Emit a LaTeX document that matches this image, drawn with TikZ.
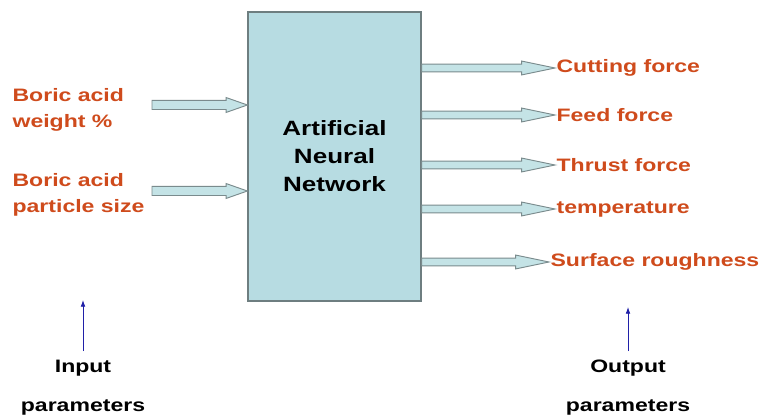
\documentclass[tikz,border=0pt]{standalone}
\usepackage{fontspec}
\setmainfont{Liberation Sans}
\newfontfamily\lblfont[FakeStretch=1.28]{Liberation Sans}
\newfontfamily\boxfont[FakeStretch=1.26]{Liberation Sans}
\usetikzlibrary{calc,arrows.meta}
\definecolor{lblred}{HTML}{CF4B1C}
\definecolor{boxfill}{HTML}{B7DCE2}
\definecolor{boxline}{HTML}{6E7E80}
\definecolor{arrfill}{HTML}{C4E3E6}
\definecolor{arrline}{HTML}{7A8B8D}
\definecolor{navy}{HTML}{2020A8}
\tikzset{
  inlabel/.style={font=\lblfont\bfseries\fontsize{13.5pt}{19.5pt}\selectfont, text=lblred, align=left, inner sep=1pt},
  outlabel/.style={font=\lblfont\bfseries\fontsize{13.5pt}{19.5pt}\selectfont, text=lblred, anchor=west, inner sep=1pt},
  paramlabel/.style={font=\lblfont\bfseries\fontsize{13.5pt}{19.5pt}\selectfont, text=black, inner sep=1pt},
  annbox/.style={draw=boxline, fill=boxfill, line width=0.9pt, minimum width=129.75pt, minimum height=216.75pt,
    font=\boxfont\bfseries\fontsize{15.5pt}{21pt}\selectfont, align=center},
  inarrow/.style={draw=arrline, fill=arrfill, line width=0.7pt,
    to path={($(\tikztostart)+(0,3.4pt)$) -- ($(\tikztotarget)+(-16pt,3.4pt)$) -- ($(\tikztotarget)+(-16pt,5.6pt)$)
      -- (\tikztotarget) -- ($(\tikztotarget)+(-16pt,-5.6pt)$) -- ($(\tikztotarget)+(-16pt,-3.4pt)$)
      -- ($(\tikztostart)+(0,-3.4pt)$) -- cycle}},
  outarrow/.style={draw=arrline, fill=arrfill, line width=0.7pt,
    to path={($(\tikztostart)+(0,2.9pt)$) -- ($(\tikztotarget)+(-25pt,2.9pt)$) -- ($(\tikztotarget)+(-25pt,5.2pt)$)
      -- (\tikztotarget) -- ($(\tikztotarget)+(-25pt,-5.2pt)$) -- ($(\tikztotarget)+(-25pt,-2.9pt)$)
      -- ($(\tikztostart)+(0,-2.9pt)$) -- cycle}},
  bluearrow/.style={draw=navy, line width=0.6pt, -{Latex[length=5pt,width=3.5pt]}}
}
\begin{document}
\begin{tikzpicture}[x=0.75pt,y=-0.75pt]
\useasboundingbox (0,0) rectangle (766,420);
\fill[white] (0,0) rectangle (766,420);
% central box
\node[annbox] (ann) at (334.5,156.5) {Artificial\\Neural\\Network};
% input labels
\node[inlabel, anchor=west] (in1) at (11,110) {Boric acid\\weight \%};
\node[inlabel, anchor=west] (in2) at (11,195) {Boric acid\\particle size};
\coordinate (in1s) at (152,105);
\coordinate (in2s) at (152,191);
\draw[inarrow] (in1s) to (ann.west |- in1s);
\draw[inarrow] (in2s) to (ann.west |- in2s);
% output labels
\node[outlabel] (o1) at (555,68) {Cutting force};
\node[outlabel] (o2) at (555,115) {Feed force};
\node[outlabel] (o3) at (555,165) {Thrust force};
\node[outlabel] (o4) at (555,209) {temperature};
\node[outlabel] (o5) at (549,262) {Surface roughness};
\coordinate (s1) at (ann.east |- o1.west);
\coordinate (s2) at (ann.east |- o2.west);
\coordinate (s3) at (ann.east |- o3.west);
\coordinate (s4) at (ann.east |- o4.west);
\coordinate (s5) at (ann.east |- o5.west);
\draw[outarrow] (s1) to (o1.west);
\draw[outarrow] (s2) to (o2.west);
\draw[outarrow] (s3) to (o3.west);
\draw[outarrow] (s4) to (o4.west);
\draw[outarrow] (s5) to (o5.west);
% parameter annotations
\node[paramlabel] (inp) at (83,368) {Input};
\node[paramlabel] (inpp) at (83,407) {parameters};
\node[paramlabel] (outp) at (628,368) {Output};
\node[paramlabel] (outpp) at (628,407) {parameters};
\coordinate (inarrtip) at (83,300);
\coordinate (outarrtip) at (628,307);
\coordinate (inarrtail) at (83,351);
\coordinate (outarrtail) at (628,351);
\draw[bluearrow] (inarrtail) -- (inarrtip);
\draw[bluearrow] (outarrtail) -- (outarrtip);
\end{tikzpicture}
\end{document}
